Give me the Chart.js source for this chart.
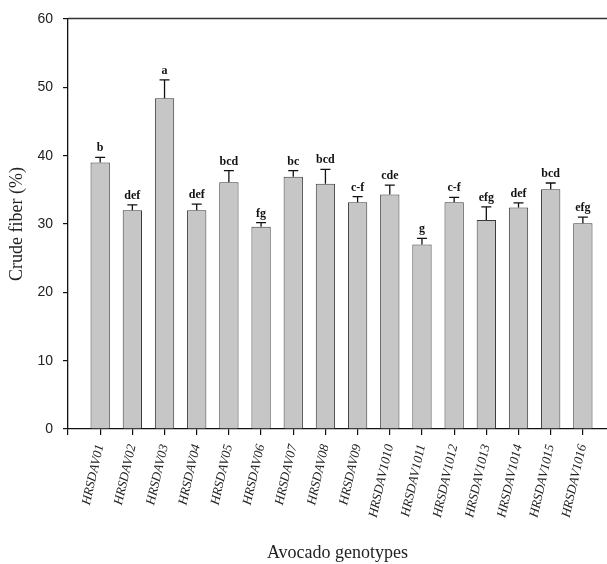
<!DOCTYPE html>
<html>
<head>
<meta charset="utf-8">
<script src="https://cdn.jsdelivr.net/npm/chart.js@4/dist/chart.umd.min.js"></script>
<style>
  html, body { margin: 0; padding: 0; background: #fff; }
  #wrap { width: 607px; height: 564px; }
</style>
</head>
<body>
<div id="wrap"><canvas id="myChart" width="607" height="564"></canvas></div>
<script>
const genotypes = ['HRSDAV01', 'HRSDAV02', 'HRSDAV03', 'HRSDAV04', 'HRSDAV05', 'HRSDAV06', 'HRSDAV07', 'HRSDAV08',
    'HRSDAV09', 'HRSDAV1010', 'HRSDAV1011', 'HRSDAV1012', 'HRSDAV1013', 'HRSDAV1014', 'HRSDAV1015', 'HRSDAV1016']
const fiber = [39.0, 32.0, 48.4, 32.0, 36.1, 29.6, 36.9, 35.9, 33.2, 34.3, 27.0, 33.2, 30.6, 32.4, 35.1, 30.1]
const fiberErr = [0.75, 0.8, 2.7, 0.9, 1.7, 0.6, 0.9, 2.1, 0.8, 1.4, 0.9, 0.7, 1.9, 0.7, 0.9, 0.9]
const letters = ['b', 'def', 'a', 'def', 'bcd', 'fg', 'bc', 'bcd', 'c-f', 'cde', 'g', 'c-f', 'efg', 'def', 'bcd', 'efg']
const yTicks = [0, 10, 20, 30, 40, 50, 60]

// error bars (upper only), significance letters and the top frame line
const extras = {
    id: 'extras',
    afterDatasetsDraw(chart) {
        const ctx = chart.ctx
        const y = chart.scales.y
        const area = chart.chartArea
        const meta = chart.getDatasetMeta(0)
        ctx.save()
        ctx.strokeStyle = '#111'
        ctx.lineWidth = 1.3
        meta.data.forEach((bar, i) => {
            const top = y.getPixelForValue(fiber[i])
            const cap = y.getPixelForValue(fiber[i] + fiberErr[i])
            ctx.beginPath()
            ctx.moveTo(bar.x, top)
            ctx.lineTo(bar.x, cap)
            ctx.moveTo(bar.x - 5, cap)
            ctx.lineTo(bar.x + 5, cap)
            ctx.stroke()
            ctx.fillStyle = '#111'
            ctx.font = 'bold 12px "Liberation Serif"'
            ctx.textAlign = 'center'
            ctx.textBaseline = 'alphabetic'
            ctx.fillText(letters[i], bar.x, cap - 6)
        })
        ctx.strokeStyle = '#333'
        ctx.lineWidth = 1.5
        ctx.beginPath()
        ctx.moveTo(area.left, area.top - 0.5)
        ctx.lineTo(area.right, area.top - 0.5)
        ctx.stroke()
        ctx.restore()
    }
}

const ctx = document.getElementById('myChart')
const chart = new Chart(ctx, {
    type: 'bar',
    data: {
        datasets: [{
            label: 'Crude fiber',
            data: fiber.map((v, i) => ({ x: i + 1, y: v })),
            backgroundColor: '#c6c6c6',
            borderColor: '#3a3a3a',
            borderWidth: 1,
            borderSkipped: 'bottom',
            barPercentage: 0.6,
            categoryPercentage: 1
        }]
    },
    plugins: [extras],
    options: {
        responsive: false,
        animation: false,
        layout: { padding: { top: 19, right: 0, bottom: 0, left: 0 } },
        plugins: {
            legend: { display: false },
            tooltip: { enabled: false }
        },
        scales: {
            x: {
                type: 'linear',
                min: 0,
                max: 16.75,
                offset: false,
                grid: { offset: false, drawOnChartArea: false, tickLength: 6, color: '#111', lineWidth: 1.2 },
                border: { color: '#111', width: 1.3 },
                afterBuildTicks: (scale) => {
                    scale.ticks = scale.ticks.filter(t => Number.isInteger(t.value))
                },
                afterFit: (scale) => { scale.height = 135 },
                ticks: {
                    stepSize: 1,
                    autoSkip: false,
                    minRotation: 77,
                    maxRotation: 77,
                    padding: 8,
                    color: '#222',
                    font: { family: '"Liberation Serif"', style: 'italic', size: 13 },
                    callback: (value) => (value >= 1 && value <= genotypes.length) ? genotypes[value - 1] : ''
                },
                title: {
                    display: true,
                    text: 'Avocado genotypes',
                    color: '#222',
                    font: { family: '"Liberation Serif"', size: 18 },
                    padding: { top: 0, bottom: 0 }
                }
            },
            y: {
                min: 0,
                max: 60,
                afterBuildTicks: (scale) => {
                    scale.ticks = yTicks.map(v => ({ value: v }))
                },
                afterFit: (scale) => { scale.width = 68 },
                grid: { drawOnChartArea: false, tickLength: 5, color: '#111', lineWidth: 1.2 },
                border: { color: '#111', width: 1.3 },
                ticks: {
                    padding: 10,
                    color: '#222',
                    font: { family: '"Liberation Sans"', size: 14 }
                },
                title: {
                    display: true,
                    text: 'Crude fiber (%)',
                    color: '#222',
                    font: { family: '"Liberation Serif"', size: 18 },
                    padding: { top: 6, bottom: 0 }
                }
            }
        }
    }
})
</script>
</body>
</html>
